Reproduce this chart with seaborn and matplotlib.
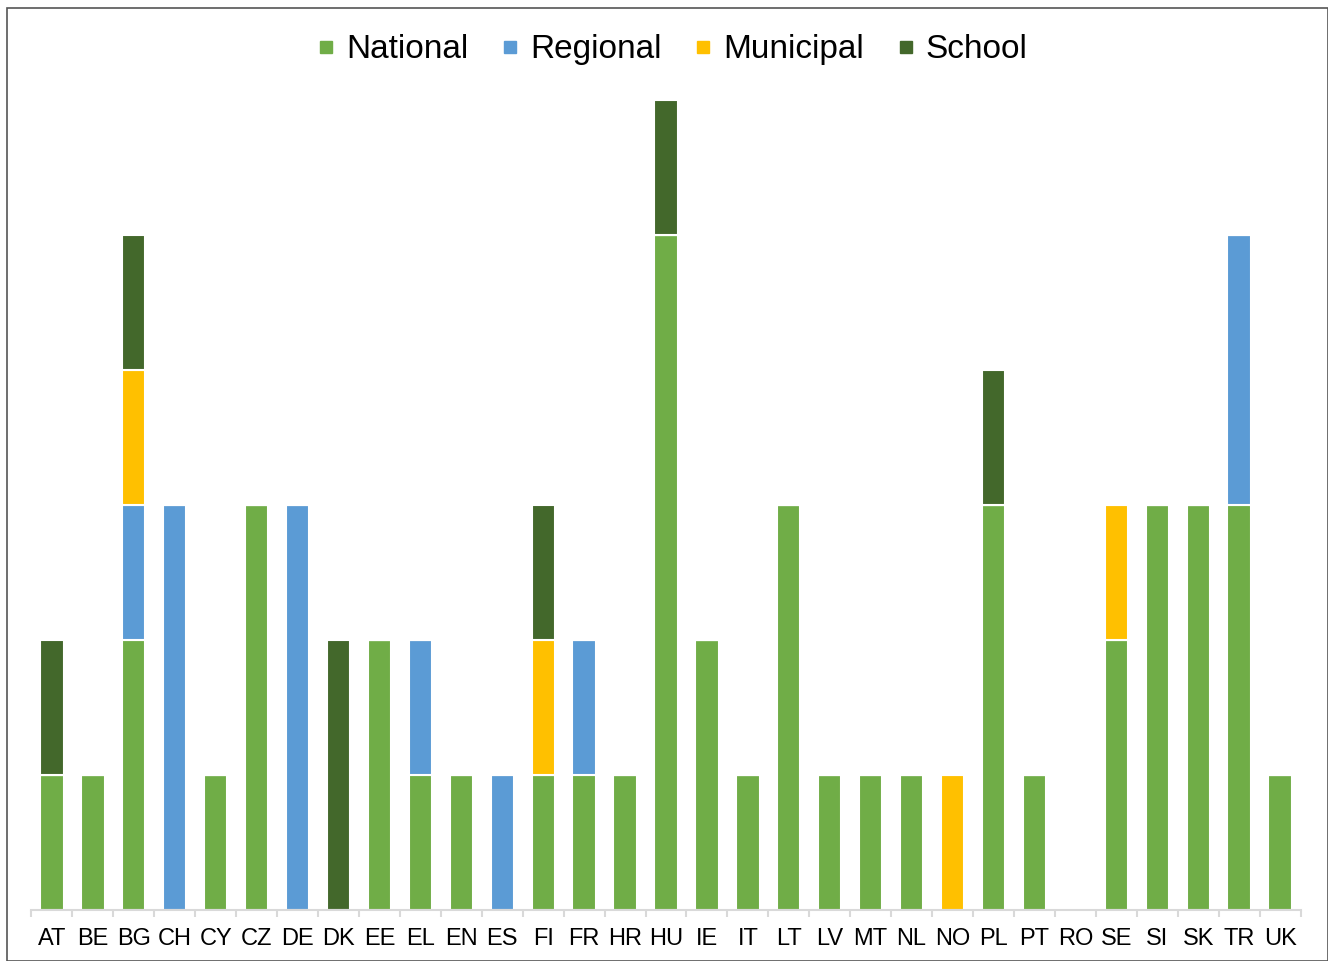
import pandas as pd
import matplotlib.pyplot as plt
import seaborn as sns
import numpy as np
from matplotlib.lines import Line2D
from matplotlib.patches import Rectangle

countries = ["AT", "BE", "BG", "CH", "CY", "CZ", "DE", "DK", "EE", "EL", "EN",
             "ES", "FI", "FR", "HR", "HU", "IE", "IT", "LT", "LV", "MT", "NL",
             "NO", "PL", "PT", "RO", "SE", "SI", "SK", "TR", "UK"]
national = [1, 1, 2, 0, 1, 3, 0, 0, 2, 1, 1, 0, 1, 1, 1, 5, 2, 1, 3, 1, 1, 1,
            0, 3, 1, 0, 2, 3, 3, 3, 1]
regional = [0, 0, 1, 3, 0, 0, 3, 0, 0, 1, 0, 1, 0, 1, 0, 0, 0, 0, 0, 0, 0, 0,
            0, 0, 0, 0, 0, 0, 0, 2, 0]
municipal = [0, 0, 1, 0, 0, 0, 0, 0, 0, 0, 0, 0, 1, 0, 0, 0, 0, 0, 0, 0, 0, 0,
             1, 0, 0, 0, 1, 0, 0, 0, 0]
school = [1, 0, 1, 0, 0, 0, 0, 2, 0, 0, 0, 0, 1, 0, 0, 1, 0, 0, 0, 0, 0, 0,
          0, 1, 0, 0, 0, 0, 0, 0, 0]

series = {"National": national, "Regional": regional,
          "Municipal": municipal, "School": school}
colors = {"National": "#70AD47", "Regional": "#5B9BD5",
          "Municipal": "#FFC000", "School": "#43682B"}

sns.set_style("white")
plt.rcParams['font.family'] = ['Liberation Sans', 'DejaVu Sans']
plt.rcParams['text.color'] = 'black'

fig = plt.figure(figsize=(13.28, 9.61), dpi=100)
ax = fig.add_axes([0.0237, 0.0531, 0.9556, 0.843])

# stack the four levels on top of each other
bottom = np.zeros(len(countries))
for name, vals in series.items():
    df = pd.DataFrame({"country": countries, "value": vals})
    sns.barplot(data=df, x="country", y="value", color=colors[name],
                bottom=bottom, width=0.57, edgecolor="white", linewidth=1.5,
                saturation=1, ax=ax)
    bottom = bottom + np.array(vals)

ax.set_xlim(-0.5, len(countries) - 0.5)
ax.set_ylim(0, 6.0)
ax.set_xlabel("")
ax.set_ylabel("")
ax.set_yticks([])
for s in ["top", "right", "left"]:
    ax.spines[s].set_visible(False)
ax.spines["bottom"].set_color("#D9D9D9")
ax.spines["bottom"].set_linewidth(1.5)
ax.set_xticks(np.arange(-0.5, len(countries), 1), minor=True)
ax.tick_params(axis="x", which="major", length=0, labelsize=17, pad=13,
               labelcolor="black")
ax.tick_params(axis="x", which="minor", length=5, width=1.5, color="#D9D9D9",
               bottom=True)

handles = [Line2D([], [], marker="s", linestyle="none", markersize=8.5,
                  color=colors[n]) for n in series]
fig.legend(handles, list(series), loc="center", bbox_to_anchor=(0.506, 0.948),
           ncol=4, frameon=False, fontsize=24, handlelength=0.6,
           handletextpad=0.3, columnspacing=0.95, labelcolor="black")

fig.patches.append(Rectangle((0.005, 0.0), 0.995, 0.992, transform=fig.transFigure,
                             fill=False, edgecolor="#555555", linewidth=1.2))

fig.savefig("out.png", dpi=100)
